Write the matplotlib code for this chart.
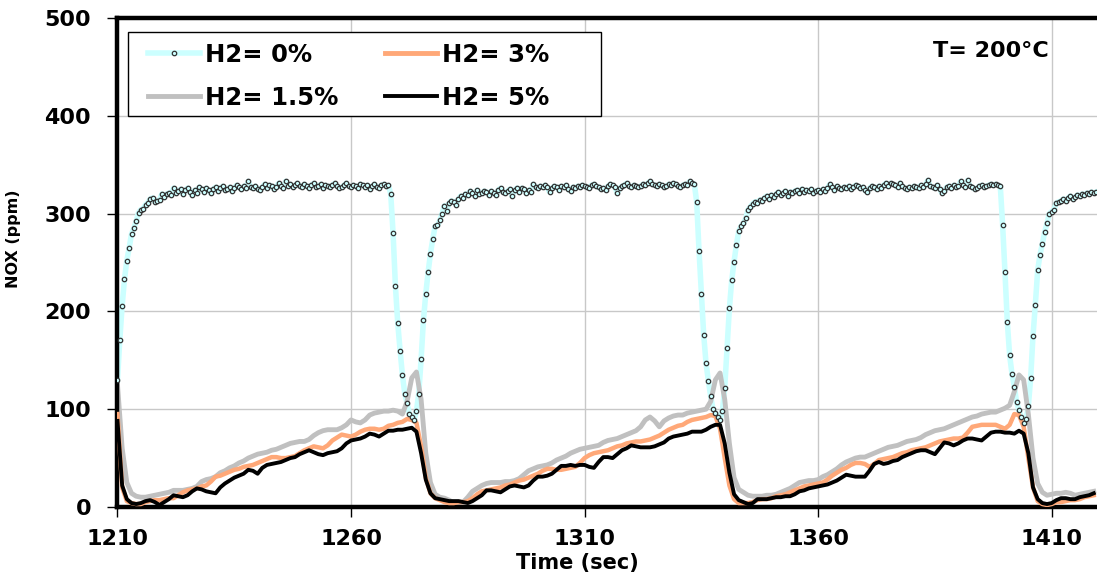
import matplotlib
matplotlib.use("Agg")
import matplotlib.pyplot as plt
from matplotlib.lines import Line2D
from matplotlib.patches import Rectangle
import numpy as np

# time axis (sec)
t_fast = np.arange(1210, 1420, 0.5)   # H2 = 0% sampled every 0.5 s
t_slow = np.arange(1210, 1420, 1.0)   # other series, every 1 s

# NOX (ppm), H2 = 0%
nox_h2_0 = [
    130, 171, 206, 233, 252, 265, 279, 285, 292, 301,
    304, 305, 309, 311, 315, 316, 312, 313, 314, 320,
    317, 320, 321, 319, 326, 321, 323, 325, 320, 324,
    326, 322, 319, 324, 321, 327, 325, 322, 326, 324,
    321, 325, 327, 323, 326, 328, 324, 325, 327, 323,
    326, 329, 327, 325, 328, 326, 333, 327, 326, 328,
    325, 324, 327, 330, 326, 329, 328, 325, 327, 331,
    328, 326, 333, 328, 330, 327, 329, 331, 328, 327,
    330, 328, 326, 329, 331, 327, 328, 330, 326, 329,
    328, 327, 329, 331, 328, 326, 327, 329, 331, 328,
    327, 329, 328, 326, 330, 329, 327, 329, 325, 328,
    330, 327, 326, 329, 330, 328, 329, 320, 280, 226,
    188, 160, 135, 116, 106, 95, 92, 89, 98, 116,
    151, 191, 218, 240, 259, 274, 287, 288, 293, 300,
    308, 303, 311, 313, 312, 309, 315, 318, 316, 320,
    319, 323, 321, 318, 324, 320, 321, 323, 322, 319,
    323, 321, 319, 324, 326, 322, 321, 323, 325, 318,
    324, 326, 322, 326, 325, 321, 324, 322, 330, 327,
    326, 328, 327, 329, 327, 322, 326, 328, 327, 324,
    328, 327, 329, 325, 323, 327, 326, 328, 327, 329,
    328, 327, 326, 329, 330, 328, 327, 325, 326, 324,
    328, 330, 329, 327, 321, 326, 328, 329, 331, 328,
    327, 329, 328, 327, 328, 330, 329, 331, 333, 330,
    329, 328, 330, 329, 327, 328, 330, 329, 331, 330,
    328, 327, 329, 330, 329, 333, 331, 330, 312, 262,
    218, 176, 147, 129, 113, 100, 96, 92, 89, 98,
    122, 163, 203, 232, 251, 268, 282, 287, 290, 295,
    304, 307, 310, 312, 311, 314, 313, 316, 318, 315,
    319, 317, 320, 322, 319, 321, 323, 318, 322, 321,
    323, 324, 321, 325, 322, 324, 323, 325, 321, 323,
    324, 322, 325, 323, 326, 330, 327, 324, 328, 326,
    325, 327, 326, 328, 325, 327, 329, 328, 326, 327,
    324, 322, 326, 328, 327, 325, 328, 326, 329, 331,
    328, 331, 330, 329, 327, 331, 328, 326, 325, 327,
    326, 328, 327, 326, 329, 327, 330, 334, 328, 327,
    326, 329, 325, 321, 323, 327, 328, 326, 329, 327,
    328, 333, 329, 327, 334, 328, 327, 325, 326, 328,
    329, 327, 328, 329, 330, 329, 330, 329, 328, 288,
    240, 189, 155, 136, 123, 107, 99, 92, 86, 90,
    103, 132, 175, 207, 242, 258, 269, 281, 290, 300,
    302, 304, 311, 312, 313, 315, 313, 316, 318, 315,
    317, 319, 318, 320, 319, 321, 320, 322, 321, 322,
]

# NOX (ppm), H2 = 1.5%
nox_h2_15 = [
    125, 60, 25, 14, 11, 10, 10, 11, 12, 13,
    14, 15, 17, 17, 17, 18, 19, 21, 26, 28,
    29, 31, 35, 37, 40, 42, 45, 47, 50, 52,
    54, 55, 56, 58, 59, 61, 63, 65, 66, 67,
    67, 69, 73, 76, 78, 79, 79, 79, 81, 84,
    89, 87, 86, 89, 94, 96, 97, 98, 98, 99,
    98, 95, 108, 132, 138, 110, 55, 25, 13, 10,
    9, 7, 4, 4, 5, 10, 16, 19, 22, 24,
    25, 25, 25, 26, 26, 27, 29, 33, 37, 39,
    41, 42, 43, 45, 48, 50, 52, 55, 57, 59,
    60, 61, 62, 63, 66, 68, 69, 70, 72, 74,
    76, 78, 82, 89, 92, 88, 82, 88, 91, 93,
    94, 94, 96, 97, 98, 99, 100, 108, 130, 137,
    110, 65, 30, 18, 15, 12, 11, 11, 11, 12,
    12, 13, 15, 17, 19, 22, 25, 26, 27, 27,
    28, 31, 33, 36, 39, 43, 46, 48, 50, 51,
    51, 53, 55, 57, 59, 61, 62, 63, 65, 67,
    68, 69, 71, 74, 76, 78, 79, 80, 82, 84,
    86, 88, 90, 92, 93, 95, 96, 97, 97, 99,
    101, 104, 118, 135, 130, 95, 50, 24, 15, 12,
    13, 14, 14, 15, 14, 12, 13, 14, 15, 16,
]

# NOX (ppm), H2 = 3%
nox_h2_3 = [
    95, 20, 6, 4, 3, 3, 5, 6, 7, 7,
    8, 9, 9, 12, 15, 17, 18, 19, 21, 22,
    26, 31, 32, 34, 36, 38, 39, 41, 42, 43,
    45, 47, 49, 51, 51, 50, 50, 51, 52, 55,
    58, 60, 62, 61, 60, 63, 68, 71, 74, 73,
    72, 74, 77, 79, 80, 80, 79, 80, 83, 84,
    86, 87, 90, 89, 86, 62, 30, 14, 9, 7,
    5, 4, 4, 5, 5, 6, 9, 13, 16, 17,
    18, 19, 20, 22, 23, 25, 27, 28, 30, 32,
    34, 37, 39, 39, 38, 38, 39, 40, 41, 45,
    50, 53, 55, 56, 57, 58, 60, 62, 63, 65,
    66, 67, 67, 68, 69, 71, 73, 76, 79, 81,
    83, 84, 87, 89, 90, 91, 92, 94, 93, 80,
    50, 22, 8, 4, 4, 4, 5, 7, 8, 8,
    9, 11, 12, 13, 15, 17, 19, 21, 22, 23,
    24, 25, 28, 32, 35, 38, 40, 43, 45, 45,
    44, 41, 44, 48, 49, 50, 51, 53, 55, 56,
    58, 59, 60, 61, 63, 65, 67, 68, 69, 70,
    70, 71, 76, 82, 83, 84, 84, 84, 84, 82,
    80, 84, 95, 94, 82, 50, 20, 6, 3, 2,
    3, 5, 5, 6, 7, 7, 8, 10, 11, 12,
]

# NOX (ppm), H2 = 5%
nox_h2_5 = [
    88, 22, 8, 4, 3, 4, 6, 7, 5, 2,
    5, 8, 12, 11, 10, 12, 16, 19, 18, 16,
    15, 14, 20, 24, 27, 30, 32, 34, 38, 37,
    34, 40, 43, 44, 45, 46, 48, 50, 51, 54,
    56, 58, 56, 54, 53, 55, 56, 57, 60, 65,
    68, 69, 70, 72, 75, 74, 72, 75, 78, 78,
    79, 79, 80, 81, 77, 55, 28, 14, 9, 8,
    7, 6, 6, 6, 5, 4, 6, 9, 12, 17,
    17, 16, 15, 18, 21, 22, 21, 20, 22, 27,
    31, 31, 32, 34, 38, 42, 42, 43, 42, 43,
    43, 41, 40, 46, 51, 51, 50, 54, 58, 60,
    63, 62, 61, 61, 61, 62, 64, 66, 70, 72,
    73, 74, 75, 77, 77, 77, 79, 82, 84, 84,
    65, 35, 13, 7, 5, 3, 4, 8, 8, 8,
    9, 10, 10, 11, 11, 13, 16, 17, 19, 20,
    21, 22, 23, 25, 27, 30, 33, 32, 31, 31,
    31, 37, 44, 46, 44, 45, 47, 48, 51, 53,
    55, 57, 58, 58, 56, 54, 60, 66, 65, 63,
    65, 68, 70, 70, 69, 68, 72, 76, 77, 77,
    76, 76, 75, 78, 75, 55, 20, 8, 4, 3,
    4, 7, 9, 9, 8, 8, 10, 11, 12, 14,
]

labels = ["H2= 0%", "H2= 1.5%", "H2= 3%", "H2= 5%"]
x_ticks = [1210, 1260, 1310, 1360, 1410]
y_ticks = [0, 100, 200, 300, 400, 500]

cyan = "#CCFFFF"
gray = "#C0C0C0"
orange = "#FFA878"

plt.rcParams["font.family"] = "DejaVu Sans"
plt.rcParams["font.weight"] = "bold"

fig = plt.figure(figsize=(10.97, 5.75), dpi=100)
ax = fig.add_axes([0.1071, 0.1183, 0.8929, 0.8504])

ax.plot(t_fast, nox_h2_0, color=cyan, lw=4, zorder=1, solid_joinstyle="round")
ax.plot(t_slow, nox_h2_15, color=gray, lw=3.5, zorder=2)
ax.plot(t_slow, nox_h2_3, color=orange, lw=3.2, zorder=3)
ax.plot(t_slow, nox_h2_5, color="black", lw=2.8, zorder=4)
ax.plot(t_fast, nox_h2_0, ls="none", marker="o", ms=3.2, mfc=cyan,
        mec="#333333", mew=0.9, zorder=5)

ax.set_xlim(1210, 1419.7)
ax.set_ylim(0, 500)
ax.set_xticks(x_ticks)
ax.set_yticks(y_ticks)
ax.grid(True, color="#C8C8C8", lw=1.0)
ax.set_axisbelow(True)

for side in ["left", "top", "bottom"]:
    ax.spines[side].set_linewidth(3.2)
    ax.spines[side].set_color("black")
ax.spines["right"].set_visible(False)

ax.tick_params(axis="both", direction="out", length=7, width=1, labelsize=16)
ax.tick_params(axis="y", pad=12)
ax.tick_params(axis="x", pad=9)

ax.set_xlabel("Time (sec)", fontsize=15, fontweight="bold")
ax.xaxis.set_label_coords(0.469, -0.094)
ax.set_ylabel("NOX (ppm)", fontsize=11.5, fontweight="bold")
ax.yaxis.set_label_coords(-0.099, 0.548)

ax.text(0.951, 0.933, "T= 200°C", transform=ax.transAxes, ha="right",
        va="center", fontsize=16, fontweight="bold")

# legend box drawn by hand so it keeps the wide frame of the original
box = Rectangle((0.0107, 0.7996), 0.4829, 0.1718, transform=ax.transAxes,
                facecolor="white", edgecolor="black", lw=1.0, zorder=6)
ax.add_patch(box)

h0 = Line2D([], [], color=cyan, lw=4, marker="o", ms=3.2, mfc=cyan,
            mec="#333333", mew=0.9)
h15 = Line2D([], [], color=gray, lw=3.5)
h3 = Line2D([], [], color=orange, lw=3.5)
h5 = Line2D([], [], color="black", lw=2.8)
leg = ax.legend([h0, h15, h3, h5], labels,
                ncol=2, loc="upper left", bbox_to_anchor=(0.0311, 0.949),
                borderaxespad=0, borderpad=0, fontsize=17.5, numpoints=1,
                handlelength=2.14, handletextpad=0.22, columnspacing=1.9,
                labelspacing=0.77, frameon=False)
leg.set_zorder(7)
for txt in leg.get_texts():
    txt.set_fontweight("bold")

fig.savefig("out.png", dpi=100)
